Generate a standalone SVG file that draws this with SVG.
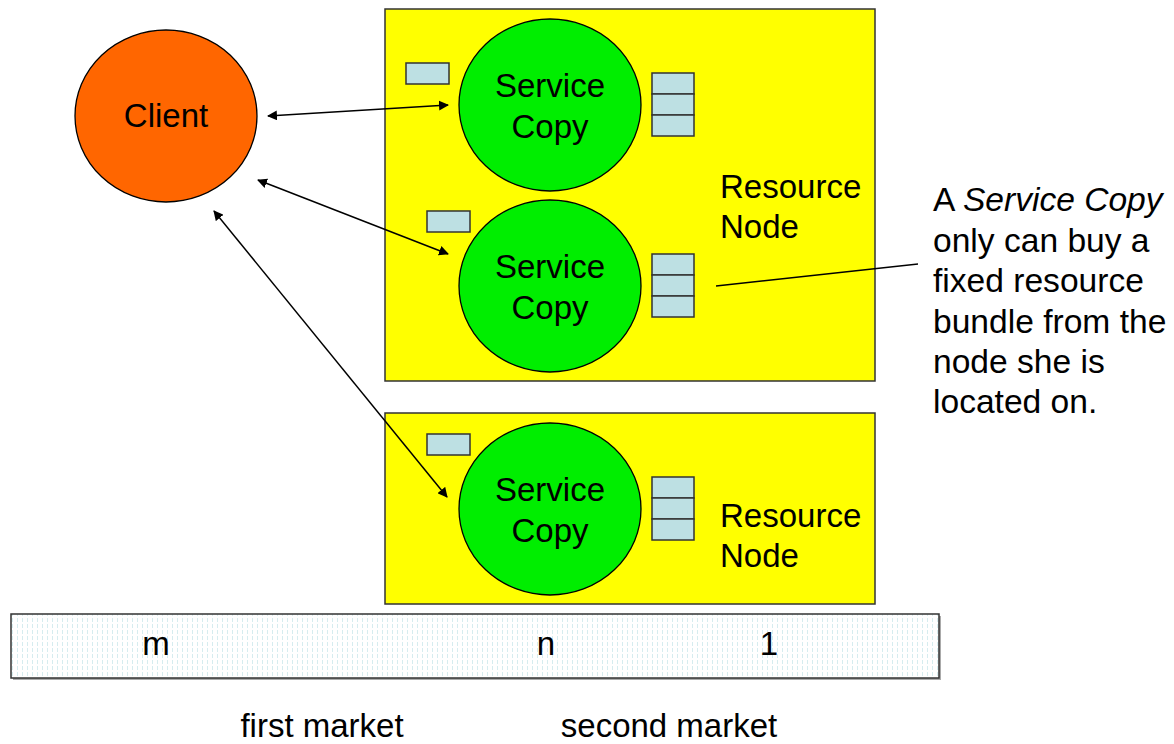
<svg xmlns="http://www.w3.org/2000/svg" width="1174" height="744" viewBox="0 0 1174 744">
<defs>
<style>
text{font-family:"Liberation Sans",Arial,sans-serif;font-size:33px;fill:#000}
.note{font-size:33.6px}
.node{fill:#ffff00;stroke:#333;stroke-width:1.5}
.svc{fill:#00ee00;stroke:#000;stroke-width:1.3}
.cell{fill:#bde0e3;stroke:#333;stroke-width:1.5}
.conn{stroke:#000;stroke-width:1.5;fill:none}
</style>
<marker id="ah" viewBox="0 0 10 10" refX="9" refY="5" markerWidth="10" markerHeight="10" markerUnits="userSpaceOnUse" orient="auto-start-reverse">
<path d="M0,0 L10,5 L0,10 z" fill="#000"/>
</marker>
<pattern id="vl" width="5" height="6" patternUnits="userSpaceOnUse">
<rect width="5" height="6" fill="#fff"/>
<rect x="2" width="1" height="4" fill="#d6ecef"/>
</pattern>
</defs>

<g id="client">
<ellipse cx="166" cy="116" rx="91" ry="86" fill="#ff6600" stroke="#000" stroke-width="1.3"/>
<text x="166" y="127" text-anchor="middle">Client</text>
</g>

<g id="resource-node-1">
<rect class="node" x="385" y="9" width="490" height="372"/>
<text x="720" y="198">Resource</text>
<text x="720" y="238">Node</text>
</g>

<g id="service-copy-1">
<rect class="cell" x="406" y="63" width="43" height="21"/>
<ellipse class="svc" cx="550" cy="105" rx="91" ry="86"/>
<text x="550" y="97" text-anchor="middle">Service</text>
<text x="550" y="138" text-anchor="middle">Copy</text>
<rect class="cell" x="652" y="73" width="42" height="21"/>
<rect class="cell" x="652" y="94" width="42" height="21"/>
<rect class="cell" x="652" y="115" width="42" height="21"/>
</g>

<g id="service-copy-2">
<rect class="cell" x="427" y="211" width="43" height="21"/>
<ellipse class="svc" cx="550" cy="286" rx="91" ry="86"/>
<text x="550" y="278" text-anchor="middle">Service</text>
<text x="550" y="319" text-anchor="middle">Copy</text>
<rect class="cell" x="652" y="254" width="42" height="21"/>
<rect class="cell" x="652" y="275" width="42" height="21"/>
<rect class="cell" x="652" y="296" width="42" height="21"/>
</g>

<g id="resource-node-2">
<rect class="node" x="385" y="413" width="490" height="191"/>
<text x="720" y="527">Resource</text>
<text x="720" y="567">Node</text>
</g>

<g id="service-copy-3">
<rect class="cell" x="427" y="434" width="43" height="21"/>
<ellipse class="svc" cx="550" cy="509" rx="91" ry="86"/>
<text x="550" y="501" text-anchor="middle">Service</text>
<text x="550" y="542" text-anchor="middle">Copy</text>
<rect class="cell" x="652" y="477" width="42" height="21"/>
<rect class="cell" x="652" y="498" width="42" height="21"/>
<rect class="cell" x="652" y="519" width="42" height="21"/>
</g>

<g id="note">
<text class="note" x="933" y="211">A <tspan font-style="italic">Service Copy</tspan></text>
<text class="note" x="933" y="252">only can buy a</text>
<text class="note" x="933" y="292">fixed resource</text>
<text class="note" x="933" y="333">bundle from the</text>
<text class="note" x="933" y="373">node she is</text>
<text class="note" x="933" y="413">located on.</text>
</g>

<g id="market-bar">
<rect x="13" y="616" width="928" height="64" fill="#aaa"/>
<rect x="11" y="614" width="928" height="64" fill="url(#vl)" stroke="#333" stroke-width="1.5"/>
<text x="156" y="655" text-anchor="middle">m</text>
<text x="546" y="655" text-anchor="middle">n</text>
<text x="769" y="655" text-anchor="middle">1</text>
<text x="322" y="737" text-anchor="middle">first market</text>
<text x="669" y="737" text-anchor="middle">second market</text>
</g>

<g id="connectors">
<line class="conn" x1="268" y1="116" x2="448" y2="105" marker-start="url(#ah)" marker-end="url(#ah)"/>
<line class="conn" x1="258" y1="180" x2="448" y2="254" marker-start="url(#ah)" marker-end="url(#ah)"/>
<line class="conn" x1="214" y1="211" x2="447" y2="497" marker-start="url(#ah)" marker-end="url(#ah)"/>
<line class="conn" x1="716" y1="286" x2="918" y2="264" stroke-width="1.2"/>
</g>
</svg>
